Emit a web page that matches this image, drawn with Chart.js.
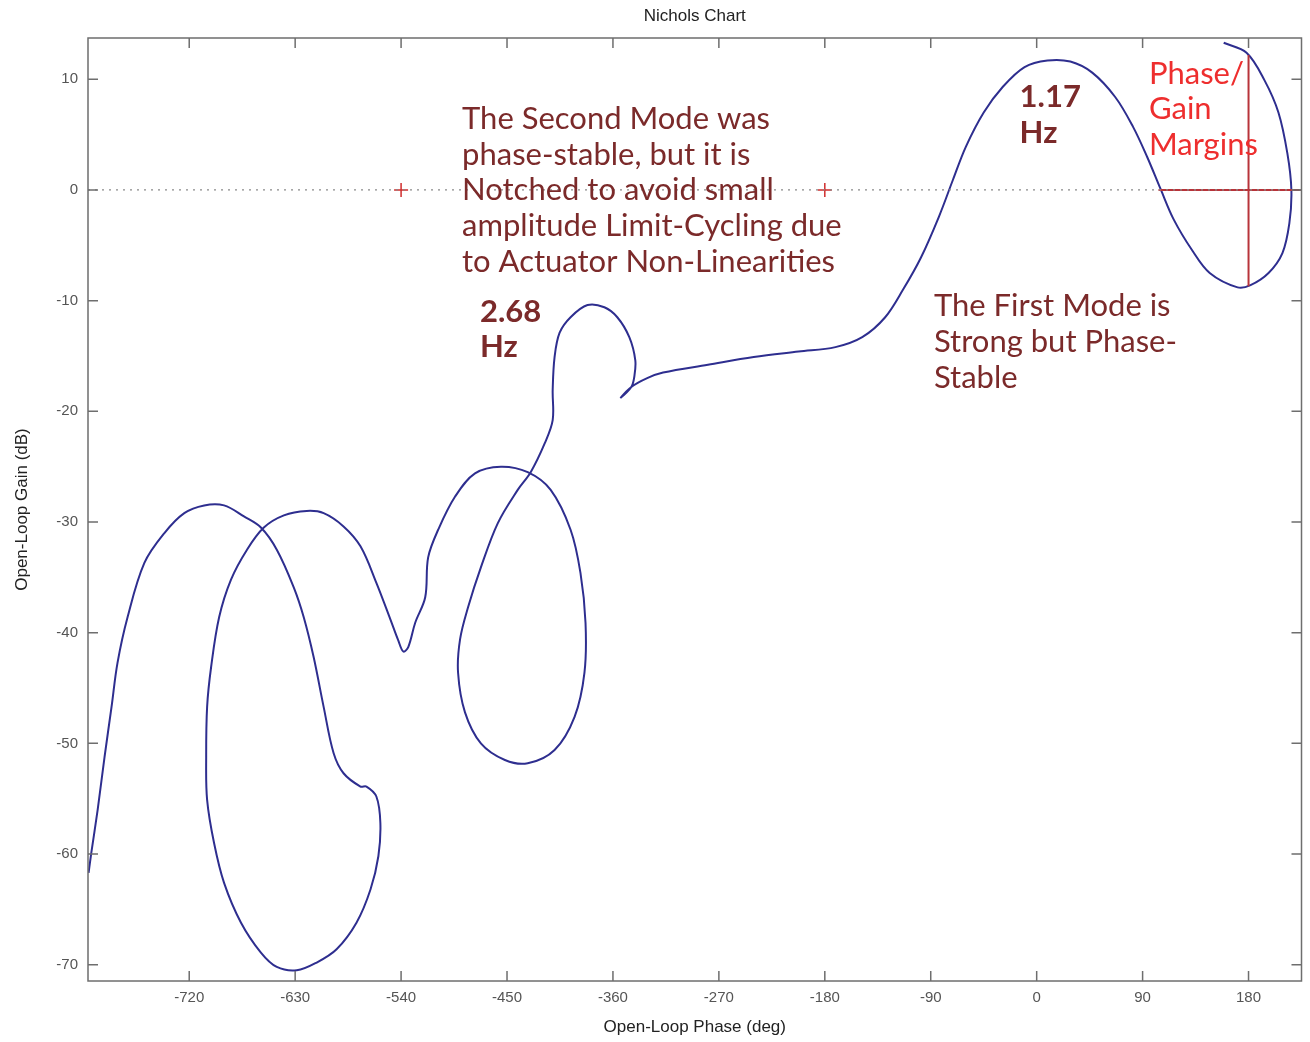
<!DOCTYPE html>
<html>
<head>
<meta charset="utf-8">
<script src="https://cdn.jsdelivr.net/npm/chart.js@4/dist/chart.umd.min.js"></script>
<style>
  body { margin: 0; background: #fff; }
  canvas { display: block; }
</style>
</head>
<body>
<canvas id="nichols" width="1310" height="1042"></canvas>
<script>
// open-loop response (deg, dB)
const curvePhase = [
  -805.5, -803.2, -797.8, -791.9, -786.0, -780.9, -772.4, -758.1, -741.1, -724.2,
  -707.3, -690.4, -673.5, -659.1, -645.6, -631.2, -622.7, -614.3, -605.8, -597.3,
  -588.9, -574.5, -569.4, -561.0, -557.6, -559.3, -566.0, -577.9, -594.8, -611.7,
  -628.6, -645.6, -659.1, -676.0, -690.4, -698.9, -704.8, -705.6, -704.8, -701.4,
  -694.6, -684.5, -670.9, -656.6, -639.6, -620.2, -605.8, -588.9, -574.5, -561.0,
  -549.1, -542.4, -538.1, -533.9, -528.0, -519.5, -517.0, -508.5, -494.1, -477.2,
  -455.2, -432.4, -412.9, -396.0, -387.6, -383.3, -384.2, -392.6, -409.6, -432.4,
  -451.8, -472.2, -485.7, -491.6, -489.9, -483.1, -472.2, -457.8, -440.9, -429.9,
  -418.0, -411.2, -411.2, -409.6, -405.3, -396.0, -381.6, -367.3, -356.3, -346.1,
  -341.0, -341.9, -344.4, -353.7, -344.4, -330.9, -317.4, -279.3, -240.4, -202.3,
  -171.0, -148.2, -128.7, -113.5, -98.3, -83.0, -71.2, -60.2, -45.0, -28.9,
  -10.3, 9.2, 28.6, 47.2, 66.7, 81.9, 93.8, 105.6, 116.6, 131.8,
  147.0, 170.7, 181.7, 197.0, 208.8, 214.7, 216.4, 213.0, 205.4, 193.6,
  178.3, 158.9
];
const curveGain = [
  -61.7, -59.9, -56.0, -51.2, -46.7, -42.7, -38.6, -33.7, -31.0, -29.2,
  -28.5, -28.5, -29.5, -30.5, -32.5, -35.9, -38.6, -42.2, -46.7, -50.9,
  -52.7, -53.9, -53.9, -54.8, -57.2, -60.2, -63.2, -66.2, -68.6, -69.8,
  -70.5, -70.2, -68.9, -66.2, -62.6, -59.0, -55.1, -51.2, -46.7, -43.1,
  -38.6, -35.2, -32.5, -30.5, -29.4, -29.0, -29.2, -30.4, -32.2, -35.5,
  -38.8, -40.7, -41.7, -41.3, -39.1, -36.8, -33.2, -30.7, -27.7, -25.6,
  -25.0, -25.5, -27.1, -30.7, -34.6, -39.1, -43.6, -47.6, -50.6, -51.8,
  -51.5, -50.0, -47.2, -43.6, -40.6, -37.7, -34.1, -30.1, -27.1, -25.5,
  -22.9, -20.8, -18.1, -15.1, -12.9, -11.5, -10.4, -10.6, -11.5, -13.3,
  -15.4, -16.9, -17.8, -18.8, -17.8, -17.0, -16.5, -15.8, -15.1, -14.6,
  -14.2, -13.3, -11.5, -9.0, -6.1, -2.4, 0.9, 3.9, 7.0, 9.3,
  11.1, 11.7, 11.6, 10.6, 8.4, 5.7, 3.0, 0.0, -2.7, -5.4,
  -7.5, -8.8, -8.6, -7.5, -5.7, -3.0, 0.0, 3.3, 7.0, 9.9,
  12.4, 13.3
];

// critical points (-540, 0) and (-180, 0)
const critPhase = [-540, -180];
const critGain = [0, 0];

// margin marks
const marginHPhase = [103.5, 225];
const marginHGain = [0, 0];
const marginVPhase = [180, 180];
const marginVGain = [12.2, -8.7];

const phaseTicks = [-720, -630, -540, -450, -360, -270, -180, -90, 0, 90, 180];
const gainTicks = [10, 0, -10, -20, -30, -40, -50, -60, -70];
const phaseRange = [-806, 225];
const gainRange = [-71.47, 13.73];

const secondModeNote = ['The Second Mode was', 'phase-stable, but it is', 'Notched to avoid small',
  'amplitude Limit-Cycling due', 'to Actuator Non-Linearities'];
const firstModeNote = ['The First Mode is', 'Strong but Phase-', 'Stable'];
const marginNote = ['Phase/', 'Gain', 'Margins'];
const freq2 = ['2.68', 'Hz'];
const freq1 = ['1.17', 'Hz'];

const pts = (xs, ys) => xs.map((x, i) => ({ x: x, y: ys[i] }));

const notes = [
  { lines: secondModeNote, at: [-488.2, 6.41], font: '31px Lato', color: '#7b2a2a' },
  { lines: freq2, at: [-473, -11.0], font: 'bold 31px Lato', color: '#7b2a2a' },
  { lines: freq1, at: [-14.5, 8.4], font: 'bold 31px Lato', color: '#7b2a2a' },
  { lines: firstModeNote, at: [-87.3, -10.5], font: '31px Lato', color: '#7b2a2a' },
  { lines: marginNote, at: [95.4, 10.5], font: '31px Lato', color: '#ee2e2e' }
];

const frame = {
  id: 'frame',
  afterDatasetsDraw(chart) {
    const { ctx, chartArea: a, scales: { x, y } } = chart;
    ctx.save();
    ctx.strokeStyle = '#6e6e6e';
    ctx.lineWidth = 1.5;
    ctx.strokeRect(a.left, a.top, a.right - a.left, a.bottom - a.top);
    ctx.beginPath();
    phaseTicks.forEach(v => {
      const px = x.getPixelForValue(v);
      ctx.moveTo(px, a.bottom); ctx.lineTo(px, a.bottom - 10);
      ctx.moveTo(px, a.top); ctx.lineTo(px, a.top + 10);
    });
    gainTicks.forEach(v => {
      const py = y.getPixelForValue(v);
      ctx.moveTo(a.left, py); ctx.lineTo(a.left + 10, py);
      ctx.moveTo(a.right, py); ctx.lineTo(a.right - 10, py);
    });
    ctx.stroke();

    ctx.textBaseline = 'middle';
    notes.forEach(n => {
      ctx.font = n.font;
      ctx.fillStyle = n.color;
      const px = x.getPixelForValue(n.at[0]);
      const py = y.getPixelForValue(n.at[1]);
      n.lines.forEach((t, i) => ctx.fillText(t, px, py + i * 35.7));
    });

    ctx.fillStyle = '#222';
    ctx.textAlign = 'center';
    ctx.font = '17px "Liberation Sans", Arial, sans-serif';
    ctx.fillText('Nichols Chart', (a.left + a.right) / 2, 16);
    ctx.fillText('Open-Loop Phase (deg)', (a.left + a.right) / 2, 1027);
    ctx.translate(22, (a.top + a.bottom) / 2);
    ctx.rotate(-Math.PI / 2);
    ctx.fillText('Open-Loop Gain (dB)', 0, 0);
    ctx.restore();
  }
};

new Chart(document.getElementById('nichols'), {
  type: 'scatter',
  data: {
    datasets: [
      {
        data: pts(phaseRange, [0, 0]), showLine: true, pointRadius: 0,
        borderColor: '#8a8a8a', borderWidth: 1.2, borderDash: [2, 5]
      },
      {
        data: pts(marginHPhase, marginHGain), showLine: true, pointRadius: 0,
        borderColor: '#b8343a', borderWidth: 2
      },
      {
        data: pts(marginVPhase, marginVGain), showLine: true, pointRadius: 0,
        borderColor: '#b8343a', borderWidth: 2
      },
      {
        data: pts(curvePhase, curveGain), showLine: true, pointRadius: 0,
        borderColor: '#2e2e8f', borderWidth: 2, tension: 0.35
      },
      {
        data: pts(critPhase, critGain), pointStyle: 'cross', pointRadius: 7,
        borderColor: '#d02c2c', borderWidth: 1.5
      }
    ]
  },
  options: {
    responsive: false,
    animation: false,
    devicePixelRatio: 1,
    layout: { padding: { top: 38, right: 1, left: 0, bottom: 0 } },
    plugins: { legend: { display: false }, tooltip: { enabled: false } },
    scales: {
      x: {
        type: 'linear',
        min: phaseRange[0],
        max: phaseRange[1],
        afterBuildTicks: s => { s.ticks = phaseTicks.map(v => ({ value: v })); },
        afterFit: s => { s.height = 61; },
        grid: { display: false, drawTicks: false },
        border: { display: false },
        ticks: {
          padding: 8,
          color: '#555',
          font: { family: '"Liberation Sans", Arial, sans-serif', size: 15 },
          callback: v => String(v)
        }
      },
      y: {
        type: 'linear',
        min: gainRange[0],
        max: gainRange[1],
        afterBuildTicks: s => { s.ticks = gainTicks.map(v => ({ value: v })); },
        afterFit: s => { s.width = 88; },
        grid: { display: false, drawTicks: false },
        border: { display: false },
        ticks: {
          padding: 10,
          color: '#555',
          font: { family: '"Liberation Sans", Arial, sans-serif', size: 15 },
          callback: v => String(v)
        }
      }
    }
  },
  plugins: [frame]
});
</script>
</body>
</html>
